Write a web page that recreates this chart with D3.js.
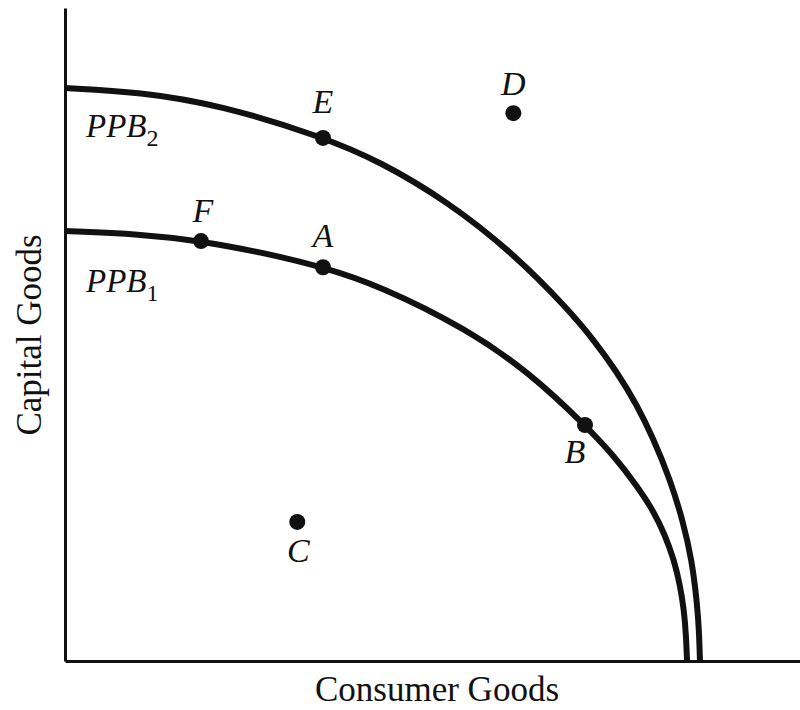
<!DOCTYPE html>
<html>
<head>
<meta charset="utf-8">
<script src="https://cdn.jsdelivr.net/npm/d3@7"></script>
<style>
  body { margin: 0; background: #fff; }
  text { font-family: "Liberation Serif", "DejaVu Serif", serif; fill: #111; }
</style>
</head>
<body>
<svg id="chart"></svg>
<script>
var width = 800,
    height = 710;

// frontier curves (consumer goods, capital goods)
var ppb1 = [[0, 65.85], [10.2, 65.39], [18.5, 64.32], [26.53, 62.63], [35.1, 60.34], [42.86, 57.43],
            [54.69, 50.84], [63.27, 44.1], [70.75, 36.14], [74.83, 31.24], [77.82, 26.8], [80.0, 23.12],
            [81.63, 19.3], [82.86, 15.47], [83.67, 11.64], [84.22, 7.81], [84.49, 3.98], [84.63, 0]];
var ppb2 = [[0, 87.75], [10.2, 87.14], [21.09, 85.15], [35.1, 80.25], [42.86, 76.49], [51.97, 70.44],
            [60.95, 62.48], [68.3, 54.06], [71.84, 49.31], [75.1, 44.26], [77.82, 39.2], [80.0, 34.15],
            [82.31, 27.87], [84.08, 21.44], [85.31, 15.31], [85.99, 8.88], [86.26, 4.75], [86.39, 0]];

// labelled points
var pointNames = ["E", "D", "F", "A", "B", "C"];
var pointX = [35.1, 61.0, 18.5, 35.1, 70.75, 31.6];
var pointY = [80.1, 83.9, 64.3, 60.3, 36.14, 21.3];

var x = d3.scaleLinear().domain([0, 100]).range([65, 800]);
var y = d3.scaleLinear().domain([0, 100]).range([661, 8]);

var svg = d3.select("#chart")
    .attr("width", width)
    .attr("height", height);

// axes: plain lines, no ticks
svg.append("g")
    .attr("transform", "translate(0," + y(0) + ")")
    .call(d3.axisBottom(x).tickValues([]).tickSizeOuter(0))
    .select(".domain").attr("stroke", "#111").attr("stroke-width", 3);

svg.append("g")
    .attr("transform", "translate(" + x(0) + ",0)")
    .call(d3.axisLeft(y).tickValues([]).tickSizeOuter(0))
    .select(".domain").attr("stroke", "#111").attr("stroke-width", 3);

var line = d3.line()
    .x(function(d) { return x(d[0]); })
    .y(function(d) { return y(d[1]); })
    .curve(d3.curveBasis);

svg.selectAll("path.ppb")
    .data([ppb1, ppb2])
  .enter().append("path")
    .attr("class", "ppb")
    .attr("d", line)
    .attr("fill", "none")
    .attr("stroke", "#111")
    .attr("stroke-width", 6);

svg.selectAll("circle.pt")
    .data(pointNames)
  .enter().append("circle")
    .attr("class", "pt")
    .attr("cx", function(d, i) { return x(pointX[i]); })
    .attr("cy", function(d, i) { return y(pointY[i]); })
    .attr("r", 8)
    .attr("fill", "#111");

// label offsets from each point (pixels)
var labelDx = [0, 0, 2, 0, -10, 1];
var labelDy = [-25, -18, -19, -20, 38, 40];

svg.selectAll("text.pt")
    .data(pointNames)
  .enter().append("text")
    .attr("class", "pt")
    .attr("x", function(d, i) { return x(pointX[i]) + labelDx[i]; })
    .attr("y", function(d, i) { return y(pointY[i]) + labelDy[i]; })
    .attr("text-anchor", "middle")
    .style("font-style", "italic")
    .style("font-size", "34px")
    .text(function(d) { return d; });

// curve names
var curveNames = [["PPB", "2", 137], ["PPB", "1", 292]];
curveNames.forEach(function(c) {
  var t = svg.append("text")
      .attr("x", 86)
      .attr("y", c[2])
      .style("font-style", "italic")
      .style("font-size", "33px")
      .text(c[0]);
  t.append("tspan")
      .attr("dy", 9)
      .style("font-style", "normal")
      .style("font-size", "24px")
      .text(c[1]);
});

svg.append("text")
    .attr("x", 437)
    .attr("y", 701)
    .attr("text-anchor", "middle")
    .style("font-size", "35px")
    .text("Consumer Goods");

svg.append("text")
    .attr("transform", "translate(41,335) rotate(-90)")
    .attr("text-anchor", "middle")
    .style("font-size", "35px")
    .text("Capital Goods");
</script>
</body>
</html>
